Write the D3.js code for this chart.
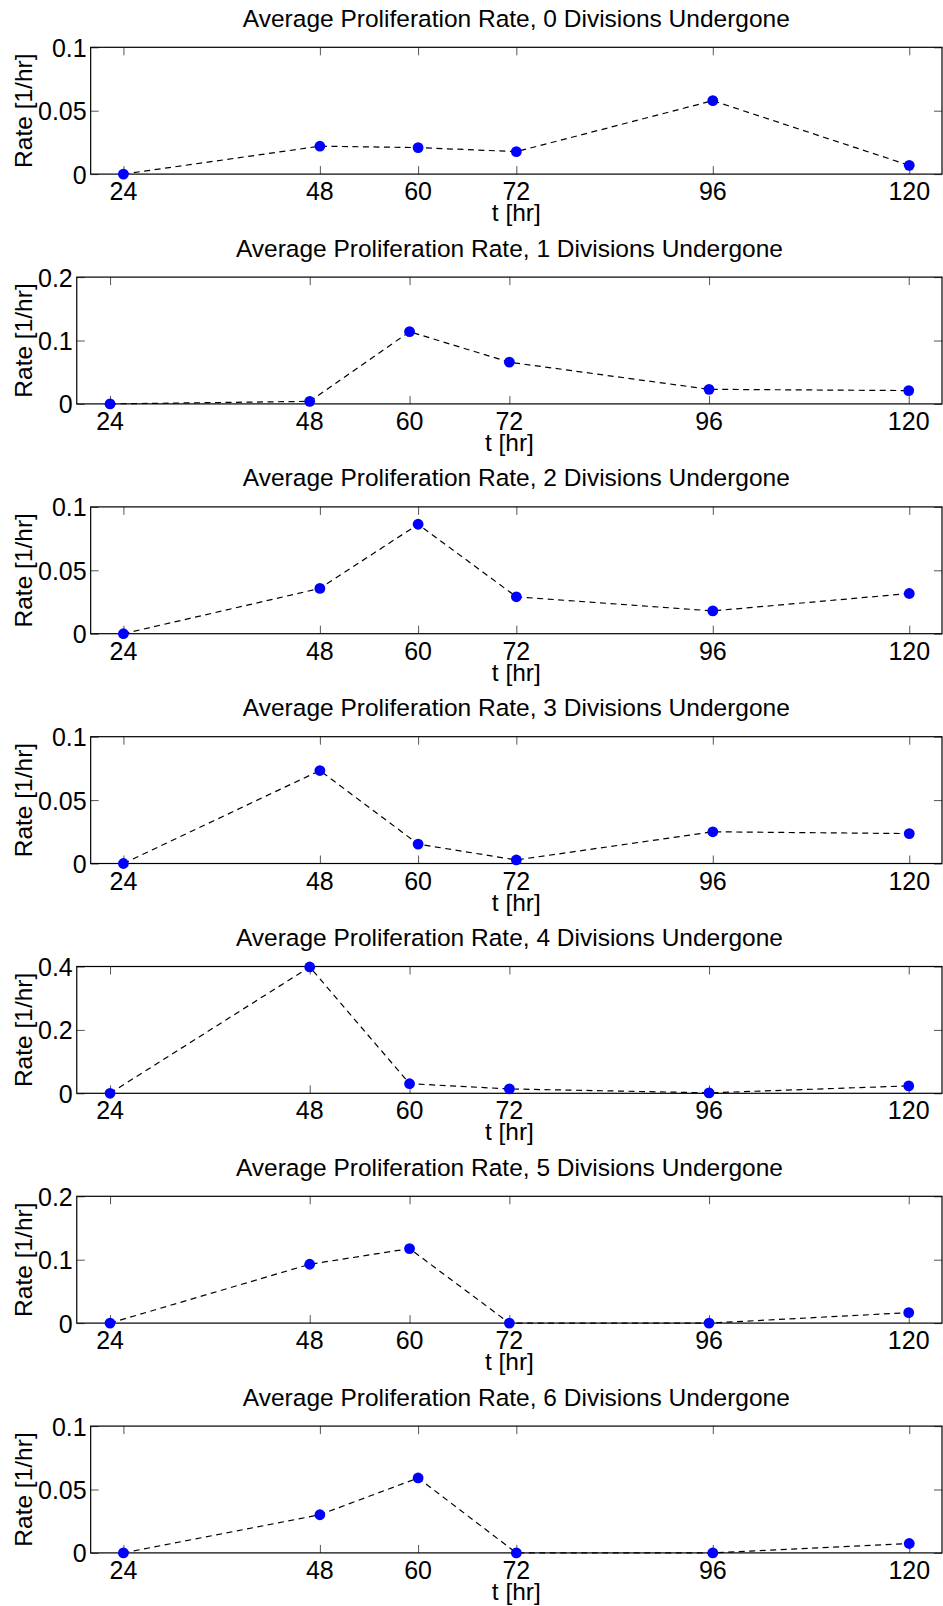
<!DOCTYPE html>
<html>
<head>
<meta charset="utf-8">
<script src="https://cdn.jsdelivr.net/npm/d3@7"></script>
<style>
  html, body { margin: 0; padding: 0; background: #fff; }
  svg { display: block; }
  text { font-family: "Liberation Sans", Arial, Helvetica, sans-serif; fill: #000; }
</style>
</head>
<body>
<script>
// Sampling times (hours) shared by every panel
const times = [24, 48, 60, 72, 96, 120];
const xTickValues = [24, 48, 60, 72, 96, 120];

// Average proliferation rate [1/hr] by number of divisions undergone
const rateDiv0 = [0, 0.0220, 0.0209, 0.0177, 0.0579, 0.0069];
const rateDiv1 = [0, 0.0040, 0.1139, 0.0658, 0.0230, 0.0210];
const rateDiv2 = [0, 0.0357, 0.0863, 0.0291, 0.0180, 0.0317];
const rateDiv3 = [0, 0.0733, 0.0153, 0.0028, 0.0250, 0.0236];
const rateDiv4 = [0, 0.3986, 0.0303, 0.0138, 0.0014, 0.0234];
const rateDiv5 = [0, 0.0928, 0.1175, 0, 0, 0.0165];
const rateDiv6 = [0, 0.0301, 0.0591, 0, 0, 0.0074];

const divisions = [0, 1, 2, 3, 4, 5, 6];
const seriesList = [rateDiv0, rateDiv1, rateDiv2, rateDiv3, rateDiv4, rateDiv5, rateDiv6];

// y-axis limits and ticks for each panel
const yLimits = [0.1, 0.2, 0.1, 0.1, 0.4, 0.2, 0.1];
const yTickValues = [
  [0, 0.05, 0.1],
  [0, 0.1, 0.2],
  [0, 0.05, 0.1],
  [0, 0.05, 0.1],
  [0, 0.2, 0.4],
  [0, 0.1, 0.2],
  [0, 0.05, 0.1]
];

const xLabel = "t [hr]";
const yLabel = "Rate [1/hr]";
const titleText = d => `Average Proliferation Rate, ${d} Divisions Undergone`;

// ---- layout ----
const W = 943, H = 1606;
const plotRight = 942;
const firstTop = 47.3, step = 229.8, plotH = 126.8;
const tickLen = 8;
const tickFont = 25, labelFont = 24.5, titleFont = 24.5;

const svg = d3.select("body").append("svg")
  .attr("width", W).attr("height", H)
  .attr("viewBox", `0 0 ${W} ${H}`);

// measure tick label widths so each axes box leaves room for its labels
const measurer = svg.append("text").attr("font-size", tickFont).attr("visibility", "hidden");
function textWidth(s) {
  measurer.text(s);
  return measurer.node().getComputedTextLength();
}

const fmt = v => String(v);

divisions.forEach((div, i) => {
  const values = seriesList[i];
  const top = firstTop + i * step;
  const bottom = top + plotH;
  const maxW = d3.max(yTickValues[i], v => textWidth(fmt(v)));
  const left = 38 + maxW + 4;

  const x = d3.scaleLinear().domain([20, 124]).range([left, plotRight]);
  const y = d3.scaleLinear().domain([0, yLimits[i]]).range([bottom, top]);

  const g = svg.append("g").attr("class", "panel");

  // dashed connecting line
  const line = d3.line().x((d, k) => x(times[k])).y(d => y(d));
  g.append("path")
    .datum(values)
    .attr("d", line)
    .attr("fill", "none")
    .attr("stroke", "#000")
    .attr("stroke-width", 1.2)
    .attr("stroke-dasharray", "6,4.5");

  // tick marks inside the box on all four sides
  const axB = d3.axisBottom(x).tickValues(xTickValues).tickSizeInner(-tickLen).tickSizeOuter(0).tickFormat("");
  const axT = d3.axisTop(x).tickValues(xTickValues).tickSizeInner(-tickLen).tickSizeOuter(0).tickFormat("");
  const axL = d3.axisLeft(y).tickValues(yTickValues[i]).tickSizeInner(-tickLen).tickSizeOuter(0).tickFormat("");
  const axR = d3.axisRight(y).tickValues(yTickValues[i]).tickSizeInner(-tickLen).tickSizeOuter(0).tickFormat("");
  [[axB, `translate(0,${bottom})`], [axT, `translate(0,${top})`],
   [axL, `translate(${left},0)`], [axR, `translate(${plotRight},0)`]].forEach(([ax, tr]) => {
    const a = g.append("g").attr("transform", tr).call(ax);
    a.select(".domain").remove();
    a.selectAll(".tick line").attr("stroke", "#555").attr("stroke-width", 1);
  });

  // axes box
  g.append("rect")
    .attr("x", left).attr("y", top)
    .attr("width", plotRight - left).attr("height", plotH)
    .attr("fill", "none").attr("stroke", "#000").attr("stroke-width", 1.2);

  // markers
  g.selectAll("circle.pt")
    .data(values)
    .join("circle")
    .attr("class", "pt")
    .attr("cx", (d, k) => x(times[k]))
    .attr("cy", d => y(d))
    .attr("r", 5.4)
    .attr("fill", "#0000ff");

  // x tick labels
  g.selectAll("text.xt")
    .data(xTickValues)
    .join("text")
    .attr("class", "xt")
    .attr("x", d => x(d))
    .attr("y", bottom + 26)
    .attr("text-anchor", "middle")
    .attr("font-size", tickFont)
    .text(d => d);

  // y tick labels
  g.selectAll("text.yt")
    .data(yTickValues[i])
    .join("text")
    .attr("class", "yt")
    .attr("x", left - 4)
    .attr("y", d => y(d) + 9.5)
    .attr("text-anchor", "end")
    .attr("font-size", tickFont)
    .text(d => fmt(d));

  // axis labels
  g.append("text")
    .attr("x", (left + plotRight) / 2)
    .attr("y", bottom + 47)
    .attr("text-anchor", "middle")
    .attr("font-size", labelFont)
    .text(xLabel);

  g.append("text")
    .attr("transform", `translate(32,${(top + bottom) / 2}) rotate(-90)`)
    .attr("text-anchor", "middle")
    .attr("font-size", labelFont)
    .text(yLabel);

  // title
  g.append("text")
    .attr("x", (left + plotRight) / 2)
    .attr("y", top - 20.5)
    .attr("text-anchor", "middle")
    .attr("font-size", titleFont)
    .text(titleText(div));
});

measurer.remove();
</script>
</body>
</html>
